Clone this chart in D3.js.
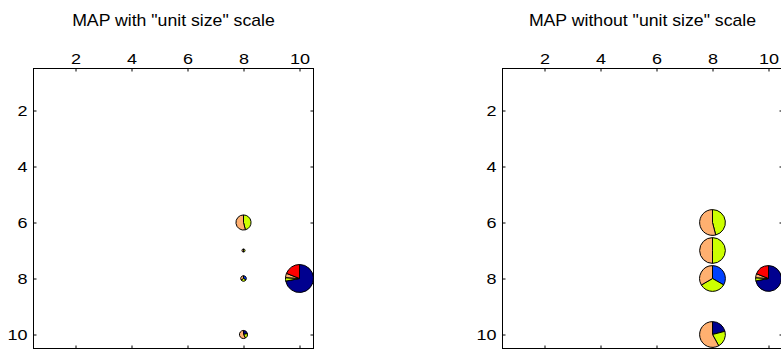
<!DOCTYPE html>
<html>
<head>
<meta charset="utf-8">
<script src="https://cdn.jsdelivr.net/npm/d3@7"></script>
<style>
  html, body { margin: 0; padding: 0; background: #fff; overflow: hidden; }
  svg { display: block; }
  text { font-family: "Liberation Sans", Arial, Helvetica, sans-serif; fill: #000; }
  .xt text { transform-box: fill-box; transform-origin: center; transform: scaleX(1.2); }
  .yt text { transform-box: fill-box; transform-origin: right center; transform: scaleX(1.2); }
  .ttl { transform-box: fill-box; transform-origin: center; transform: scaleX(1.04); }
</style>
</head>
<body>
<svg id="chart" width="781" height="349"></svg>
<script>
// ---- data ----
const panelTitles = ['MAP with "unit size" scale', 'MAP without "unit size" scale'];
const xTicks = [2, 4, 6, 8, 10];
const yTicks = [2, 4, 6, 8, 10];
const unitX = [8, 8, 8, 10, 8];
const unitY = [6, 7, 8, 8, 10];
const unitSize = [0.54, 0.11, 0.2, 1, 0.29];
const classNames = ["c1", "c2", "c3", "c4", "c5"];
const classColors = ["#00008f", "#0040ff", "#ccff00", "#ffb070", "#ff0000"];
const share1 = [0, 0, 0, 0.72, 0.21];
const share2 = [0, 0, 0.333, 0, 0];
const share3 = [0.46, 0.5, 0.333, 0.04, 0.21];
const share4 = [0.54, 0.5, 0.334, 0.05, 0.58];
const share5 = [0, 0, 0, 0.19, 0];

const shares = [share1, share2, share3, share4, share5];
const units = unitX.map((ux, i) => ({
  x: ux, y: unitY[i], s: unitSize[i],
  parts: shares.map((s, k) => ({ cls: classNames[k], color: classColors[k], v: s[i] }))
}));

const svg = d3.select("#chart");
const size = 280;
const panels = [
  { left: 33.5, top: 68.5, scaled: true },
  { left: 502.5, top: 68.5, scaled: false }
];
const pie = d3.pie().value(d => d.v).sort(null);

panels.forEach((p, pi) => {
  const x = d3.scaleLinear().domain([0.5, 10.5]).range([p.left, p.left + size]);
  const y = d3.scaleLinear().domain([0.5, 10.5]).range([p.top, p.top + size]);
  const g = svg.append("g");

  // title
  g.append("text")
    .attr("class", "ttl")
    .attr("x", p.left + size / 2).attr("y", 26)
    .attr("text-anchor", "middle")
    .style("font-size", "17px")
    .text(panelTitles[pi]);

  // axes
  const top = g.append("g").attr("class", "xt").attr("transform", `translate(0,${p.top})`)
    .call(d3.axisTop(x).tickValues(xTicks).tickSizeInner(-3).tickSizeOuter(0).tickPadding(5));
  const bottom = g.append("g").attr("transform", `translate(0,${p.top + size})`)
    .call(d3.axisBottom(x).tickValues(xTicks).tickSizeInner(-3).tickSizeOuter(0).tickFormat(""));
  const leftAx = g.append("g").attr("class", "yt").attr("transform", `translate(${p.left},0)`)
    .call(d3.axisLeft(y).tickValues(yTicks).tickSizeInner(-3).tickSizeOuter(0).tickPadding(6));
  const rightAx = g.append("g").attr("transform", `translate(${p.left + size},0)`)
    .call(d3.axisRight(y).tickValues(yTicks).tickSizeInner(-3).tickSizeOuter(0).tickFormat(""));
  [top, bottom, leftAx, rightAx].forEach(a => {
    a.select(".domain").remove();
    a.selectAll("text").style("font-size", "15px").attr("font-family", null);
    a.selectAll("line").attr("stroke", "#000");
  });

  g.append("rect")
    .attr("x", p.left).attr("y", p.top).attr("width", size).attr("height", size)
    .attr("fill", "none").attr("stroke", "#000").attr("stroke-width", 1);

  // pies
  const unitPx = x(1) - x(0);
  units.forEach(u => {
    const r = p.scaled ? 0.5 * unitPx * u.s : 0.46 * unitPx;
    const arc = d3.arc().innerRadius(0).outerRadius(r);
    const pg = g.append("g").attr("transform", `translate(${x(u.x)},${y(u.y)})`);
    pg.selectAll("path")
      .data(pie(u.parts.filter(d => d.v > 0)))
      .join("path")
      .attr("d", arc)
      .attr("fill", d => d.data.color)
      .attr("stroke", "#000")
      .attr("stroke-width", 1)
      .attr("stroke-linejoin", "round");
  });
});
</script>
</body>
</html>
